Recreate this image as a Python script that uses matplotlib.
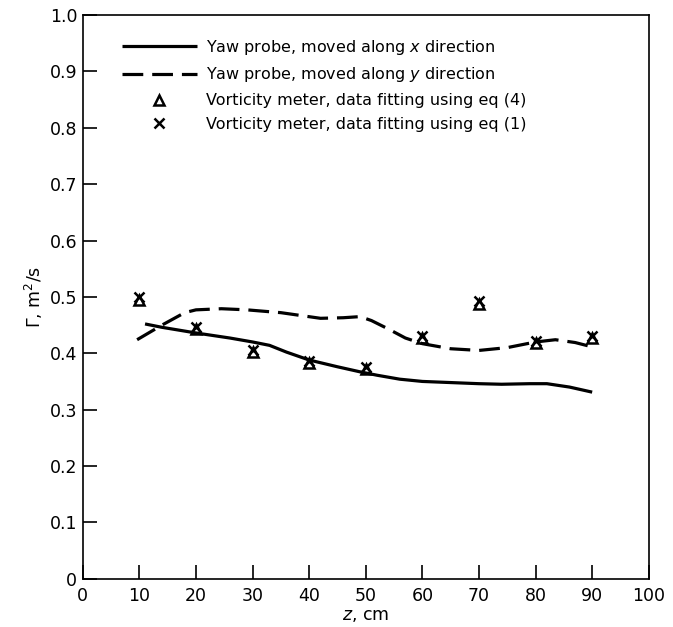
import matplotlib
matplotlib.use('Agg')
import matplotlib.pyplot as pyplot

# yaw probe traverse along x (solid curve)
z_yaw_x = [11, 14, 20, 26, 30, 33, 36, 40, 45, 49, 52, 56, 60, 65, 70, 74, 79, 82, 86, 90]
gamma_yaw_x = [0.452, 0.446, 0.436, 0.427, 0.420, 0.414, 0.402, 0.388, 0.376, 0.367,
               0.361, 0.354, 0.350, 0.348, 0.346, 0.345, 0.346, 0.346, 0.340, 0.331]

# yaw probe traverse along y (dashed curve)
z_yaw_y = [9.6, 14, 18, 20, 24.5, 29, 35, 42, 46, 49, 51, 54, 57, 60, 65, 70, 75, 80, 83.5, 87, 90.5]
gamma_yaw_y = [0.424, 0.450, 0.472, 0.477, 0.479, 0.477, 0.472, 0.462, 0.463, 0.465,
               0.458, 0.443, 0.427, 0.417, 0.408, 0.405, 0.410, 0.420, 0.424, 0.419, 0.410]

# vorticity meter stations
z_meter = [10, 20, 30, 40, 50, 60, 70, 80, 90]
gamma_eq4 = [0.495, 0.443, 0.402, 0.383, 0.372, 0.427, 0.488, 0.418, 0.427]
gamma_eq1 = [0.499, 0.447, 0.405, 0.386, 0.376, 0.431, 0.492, 0.421, 0.431]

x_ticks = list(range(0, 101, 10))
y_ticks = [0, 0.1, 0.2, 0.3, 0.4, 0.5, 0.6, 0.7, 0.8, 0.9, 1.0]
y_tick_labels = ['0', '0.1', '0.2', '0.3', '0.4', '0.5', '0.6', '0.7', '0.8', '0.9', '1.0']

if __name__ == '__main__':
    fig = pyplot.figure(figsize=(6.73, 6.27), dpi=100)
    ax = fig.add_axes([0.123, 0.077, 0.841, 0.899])

    ax.plot(z_yaw_x, gamma_yaw_x, color='black', lw=2.3, solid_capstyle='butt',
            label='Yaw probe, moved along $x$ direction')
    ax.plot(z_yaw_y, gamma_yaw_y, color='black', lw=2.3, dashes=(6.5, 2.8),
            label='Yaw probe, moved along $y$ direction')
    ax.plot(z_meter, gamma_eq4, ls='none', marker='^', ms=7.5, mfc='none', mec='black', mew=1.8,
            label='Vorticity meter, data fitting using eq (4)')
    ax.plot(z_meter, gamma_eq1, ls='none', marker='x', ms=6.5, mec='black', mew=1.8,
            label='Vorticity meter, data fitting using eq (1)')

    ax.set_xlim(0, 100)
    ax.set_ylim(0, 1.0)
    ax.set_xticks(x_ticks)
    ax.set_yticks(y_ticks)
    ax.set_yticklabels(y_tick_labels)
    ax.tick_params(direction='in', length=10, width=1.2, labelsize=12.5, pad=6)
    ax.tick_params(axis='y', pad=4)
    for spine in ax.spines.values():
        spine.set_linewidth(1.2)

    ax.set_xlabel('$z$, cm', fontsize=12.5, labelpad=1)
    ax.set_ylabel(r'$\Gamma$, m$^2$/s', fontsize=12.5, labelpad=3)

    ax.legend(loc='upper left', bbox_to_anchor=(0.069, 0.96), frameon=False,
              fontsize=11.5, handlelength=4.7, handletextpad=0.6, labelspacing=0.55,
              borderpad=0, borderaxespad=0, numpoints=1)

    pyplot.savefig('out.png', dpi=100)
